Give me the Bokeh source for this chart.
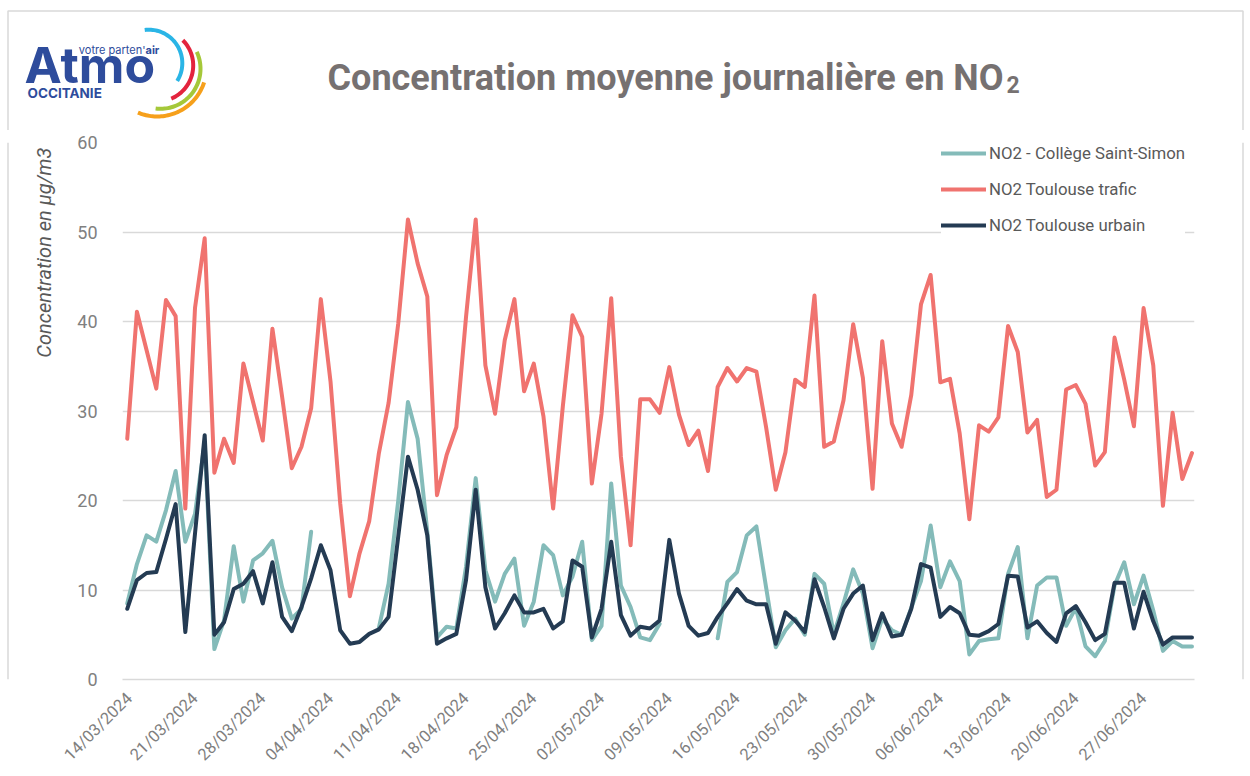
import math
import pandas as pd
from bokeh.plotting import figure
from bokeh.layouts import column, row
from bokeh.models import (Range1d, FixedTicker, DatetimeTickFormatter, Legend, LegendItem)
from bokeh.core.properties import value
from bokeh.embed import file_html
from bokeh.resources import INLINE

NaN = float("nan")

start_date = "2024-03-14"
n_days = 111
tick_dates = ["14/03/2024", "21/03/2024", "28/03/2024", "04/04/2024", "11/04/2024", "18/04/2024",
              "25/04/2024", "02/05/2024", "09/05/2024", "16/05/2024", "23/05/2024", "30/05/2024",
              "06/06/2024", "13/06/2024", "20/06/2024", "27/06/2024"]
y_ticks = [0, 10, 20, 30, 40, 50, 60]

no2_trafic = [26.9, 41.1, 36.8, 32.5, 42.4, 40.6, 19.1, 41.5, 49.3, 23.1,
              26.9, 24.2, 35.3, 31.0, 26.7, 39.2, 31.6, 23.6, 26.0, 30.3,
              42.5, 33.3, 19.7, 9.3, 14.1, 17.7, 25.3, 30.9, 39.8, 51.4,
              46.5, 42.8, 20.6, 25.1, 28.2, 40.5, 51.4, 35.1, 29.7, 37.9,
              42.5, 32.2, 35.3, 29.4, 19.1, 30.5, 40.7, 38.3, 21.9, 29.7,
              42.6, 24.9, 15.0, 31.3, 31.3, 29.8, 34.9, 29.6, 26.2, 27.8,
              23.3, 32.7, 34.8, 33.3, 34.8, 34.4, 28.2, 21.2, 25.4, 33.5,
              32.7, 42.9, 26.0, 26.6, 31.2, 39.7, 33.7, 21.3, 37.8, 28.6,
              26.0, 31.8, 41.9, 45.2, 33.2, 33.6, 27.5, 17.9, 28.4, 27.7,
              29.3, 39.5, 36.6, 27.6, 29.0, 20.4, 21.2, 32.4, 32.9, 30.8,
              23.9, 25.4, 38.2, 33.5, 28.3, 41.5, 35.1, 19.4, 29.8, 22.4,
              25.3]

no2_urbain = [7.9, 11.1, 11.9, 12.0, 15.7, 19.6, 5.3, 16.3, 27.3, 5.0,
              6.4, 10.1, 10.7, 12.1, 8.5, 13.1, 7.0, 5.4, 8.1, 11.3,
              15.0, 12.2, 5.5, 4.0, 4.2, 5.1, 5.6, 7.0, 16.0, 24.9,
              21.2, 16.1, 4.0, 4.6, 5.1, 11.1, 21.2, 10.3, 5.7, 7.4,
              9.4, 7.5, 7.5, 7.9, 5.7, 6.5, 13.3, 12.6, 4.7, 7.9,
              15.4, 7.2, 4.9, 5.9, 5.7, 6.6, 15.6, 9.6, 6.0, 4.9,
              5.2, 7.0, 8.5, 10.1, 8.8, 8.4, 8.4, 4.0, 7.5, 6.6,
              5.3, 11.2, 8.1, 4.6, 7.9, 9.6, 10.5, 4.4, 7.4, 4.8,
              5.0, 7.9, 12.9, 12.5, 7.0, 8.1, 7.4, 5.0, 4.9, 5.4,
              6.2, 11.6, 11.5, 5.8, 6.5, 5.2, 4.2, 7.4, 8.2, 6.4,
              4.4, 5.1, 10.8, 10.8, 5.7, 9.8, 6.5, 3.9, 4.7, 4.7,
              4.7]

no2_college = [8.5, 12.9, 16.1, 15.4, 18.9, 23.3, 15.4, 18.5, 26.5, 3.4,
               6.6, 14.9, 8.7, 13.3, 14.1, 15.5, 10.3, 6.8, 7.9, 16.5,
               NaN, NaN, NaN, NaN, NaN, NaN, 5.8, 10.7, 20.0, 31.0,
               26.9, 16.5, 4.7, 5.9, 5.7, 12.6, 22.5, 12.2, 8.7, 11.8,
               13.5, 6.0, 8.7, 15.0, 13.9, 9.4, 11.5, 15.4, 4.4, 6.0,
               21.9, 10.5, 8.1, 4.7, 4.4, 6.2, NaN, NaN, NaN, NaN,
               NaN, 4.6, 10.9, 12.0, 16.1, 17.1, 10.3, 3.6, 5.5, 6.8,
               5.0, 11.8, 10.7, 5.1, 8.5, 12.3, 9.6, 3.5, 6.8, 5.5,
               5.0, 8.0, 11.0, 17.2, 10.3, 13.2, 11.0, 2.8, 4.3, 4.5,
               4.6, 11.8, 14.8, 4.6, 10.5, 11.4, 11.4, 6.0, 8.0, 3.7,
               2.6, 4.3, 10.5, 13.1, 8.4, 11.6, 7.7, 3.2, 4.3, 3.7,
               3.7]

series_labels = ["NO2 - Collège Saint-Simon", "NO2 Toulouse trafic", "NO2 Toulouse urbain"]
series_colors = ["#84bbb9", "#f0736f", "#243b53"]

title_text = "Concentration moyenne journalière en NO"
title_sub = "2"
y_title = "Concentration en µg/m3"

BORDER = "#d9d9d9"
TOTAL_W, HEAD_H, TOTAL_H = 1244, 130, 774
LEFT_W, RIGHT_W = 60, 8
MAIN_W = TOTAL_W - LEFT_W - RIGHT_W
MAIN_H = TOTAL_H - HEAD_H


def blank(width, height, x0, x1, y0, y1):
    f = figure(width=width, height=height, output_backend="svg", toolbar_location=None,
               x_range=Range1d(x0, x1), y_range=Range1d(y1, y0),
               x_axis_location=None, y_axis_location=None,
               min_border=0, min_border_left=0, min_border_right=0,
               min_border_top=0, min_border_bottom=0)
    f.grid.visible = False
    f.outline_line_color = None
    f.background_fill_color = "white"
    f.border_fill_color = "white"
    return f


def txt(fig, x, y, s, size, color, font="Roboto", style="normal", align="left", angle=0.0):
    fig.text(x=[x], y=[y], text=[s], angle=angle, text_font=value(font), text_font_style=style,
             text_font_size=size, text_color=color, text_align=align, text_baseline="middle")


# ---------------- header (logo + title), page pixel coordinates ----------------
head = blank(TOTAL_W, HEAD_H, 0, TOTAL_W, 0, HEAD_H)
head.line(x=[7.5, 7.5, 1242.5, 1242.5], y=[HEAD_H, 10.5, 10.5, HEAD_H], line_color=BORDER, line_width=1.5)

txt(head, 1003, 77.5, title_text, "36px", "#767171", style="bold", align="right")
txt(head, 1006, 84, title_sub, "23px", "#767171", style="bold")

blue = "#2e4c9c"
txt(head, 24, 64, "Atmo", "50px", blue, font="Inter", style="bold")
txt(head, 145, 49, "votre parten'", "11px", blue, font="Inter", align="right")
txt(head, 145, 49, "air", "11px", blue, font="Inter", style="bold")
txt(head, 27, 92, "OCCITANIE", "13.5px", blue, font="Inter", style="bold")


def ring(cx, cy, r, a0, a1, w=4.0, n=48):
    outer, inner = [], []
    for i in range(n + 1):
        a = math.radians(a0 + (a1 - a0) * i / n)
        outer.append((cx + (r + w / 2) * math.cos(a), cy - (r + w / 2) * math.sin(a)))
        inner.append((cx + (r - w / 2) * math.cos(a), cy - (r - w / 2) * math.sin(a)))
    pts = outer + inner[::-1]
    return [q[0] for q in pts], [q[1] for q in pts]


for (cx, cy, r, a0, a1, col) in [(148.3, 62.7, 33.5, 97, -32, "#2ab5e6"),
                                 (156.7, 65.0, 36.0, 44.6, -67, "#e3243d"),
                                 (160.0, 68.3, 40.0, 25, -97, "#a5c839"),
                                 (156.7, 66.7, 49.3, -18, -113, "#f6a01b")]:
    xs, ys = ring(cx, cy, r, a0, a1)
    head.patch(xs, ys, fill_color=col, line_color=None)

# ---------------- left strip with the y-axis title ----------------
left = blank(LEFT_W, MAIN_H, 0, LEFT_W, HEAD_H, TOTAL_H)
left.line(x=[7.5, 7.5], y=[HEAD_H, TOTAL_H], line_color=BORDER, line_width=1.5)
txt(left, 43, 262, y_title, "20px", "#595959", style="italic", align="center", angle=math.pi / 2)

# ---------------- right strip (border only) ----------------
right = blank(RIGHT_W, MAIN_H, TOTAL_W - RIGHT_W, TOTAL_W, HEAD_H, TOTAL_H)
right.line(x=[1242.5, 1242.5], y=[HEAD_H, TOTAL_H], line_color=BORDER, line_width=1.5)

# ---------------- main chart ----------------
dates = pd.date_range(start_date, periods=n_days, freq="D")
t0 = dates[0]
ticks_ms = [pd.to_datetime(t, format="%d/%m/%Y").timestamp() * 1000 for t in tick_dates]

FRAME_L, FRAME_R, FRAME_T, FRAME_B = 122, 1194, 142, 679
p = figure(width=MAIN_W, height=MAIN_H, x_axis_type="datetime", output_backend="svg", toolbar_location=None,
           x_range=Range1d(t0 - pd.Timedelta(days=0.49), t0 + pd.Timedelta(days=110.26)),
           y_range=Range1d(0, 60),
           min_border_left=FRAME_L - LEFT_W, min_border_right=(LEFT_W + MAIN_W) - FRAME_R,
           min_border_top=FRAME_T - HEAD_H, min_border_bottom=TOTAL_H - FRAME_B)
p.outline_line_color = None
p.background_fill_color = "white"
p.border_fill_color = "white"

p.xgrid.grid_line_color = None
p.ygrid.grid_line_color = "#d9d9d9"
p.ygrid.grid_line_width = 1.5

p.yaxis.ticker = FixedTicker(ticks=y_ticks)
p.yaxis.axis_line_color = None
p.yaxis.major_tick_line_color = None
p.yaxis.minor_tick_line_color = None
p.yaxis.major_label_text_font = "Roboto"
p.yaxis.major_label_text_font_size = "18px"
p.yaxis.major_label_text_color = "#808080"
p.yaxis.major_label_standoff = 19

p.xaxis.ticker = FixedTicker(ticks=ticks_ms)
fmt = "%d/%m/%Y"
p.xaxis.formatter = DatetimeTickFormatter(days=fmt, months=fmt, years=fmt, hours=fmt,
                                          minutes=fmt, seconds=fmt, milliseconds=fmt,
                                          microseconds=fmt, minsec=fmt, hourmin=fmt)
p.xaxis.major_label_orientation = math.pi / 4
p.xaxis.axis_line_color = "#d9d9d9"
p.xaxis.axis_line_width = 1.5
p.xaxis.major_tick_line_color = None
p.xaxis.minor_tick_line_color = None
p.xaxis.major_label_text_font = "Roboto"
p.xaxis.major_label_text_font_size = "16.5px"
p.xaxis.major_label_text_color = "#7f7f7f"
p.xaxis.major_label_standoff = 10

renderers = []
for vals, col in zip([no2_college, no2_trafic, no2_urbain], series_colors):
    r = p.line(dates, vals, line_color=col, line_width=4, line_join="round", line_cap="round")
    renderers.append(r)

LEG_GH, LEG_SP = 20, 16
leg_h = 3 * LEG_GH + 2 * LEG_SP
legend = Legend(items=[LegendItem(label=lab, renderers=[r]) for lab, r in zip(series_labels, renderers)],
                location=(941 - FRAME_L, FRAME_B - (FRAME_T + 1) - leg_h), orientation="vertical")
legend.glyph_width = 45
legend.glyph_height = LEG_GH
legend.spacing = LEG_SP
legend.padding = 0
legend.margin = 0
legend.label_standoff = 3
legend.label_text_font = "Roboto"
legend.label_text_font_size = "16.8px"
legend.label_text_color = "#595959"
legend.border_line_color = None
legend.background_fill_color = "white"
legend.background_fill_alpha = 1.0
p.add_layout(legend)

layout = column(head, row(left, p, right, spacing=0), spacing=0)
open("out.html", "w").write(file_html(layout, INLINE))
